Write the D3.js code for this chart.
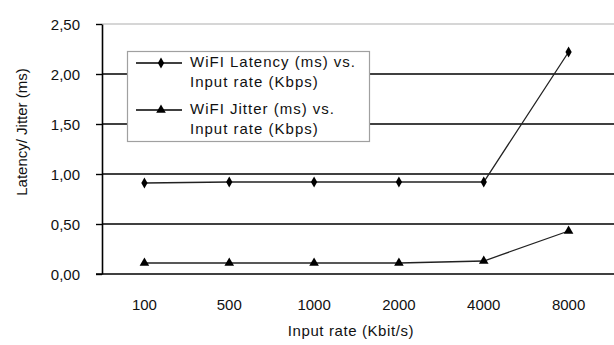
<!DOCTYPE html>
<html>
<head>
<meta charset="utf-8">
<script src="https://cdn.jsdelivr.net/npm/d3@7"></script>
<style>
  body { margin: 0; background: #fff; }
  svg text { font-family: "Liberation Sans", Arial, sans-serif; font-size: 15px; fill: #111; }
</style>
</head>
<body>
<svg id="chart" width="614" height="345"></svg>
<script>
// data
const categories = ["100", "500", "1000", "2000", "4000", "8000"];
const latency = [0.91, 0.92, 0.92, 0.92, 0.92, 2.22];
const jitter = [0.11, 0.11, 0.11, 0.11, 0.13, 0.43];
const yTicks = [0, 0.5, 1, 1.5, 2, 2.5];
const legendLabels = [
  ["WiFI Latency (ms) vs.", "Input rate (Kbps)"],
  ["WiFI Jitter (ms) vs.", "Input rate (Kbps)"]
];

const svg = d3.select("#chart");
const plotLeft = 102, plotRight = 611, plotTop = 24, plotBottom = 274;

let x = d3.scaleBand().domain(categories).range([plotLeft, plotRight]);
let y = d3.scaleLinear().domain([0, 2.5]).range([plotBottom, plotTop]);
let fmt = d => d3.format(".2f")(d).replace(".", ",");

// gridlines
svg.append("g").selectAll("line").data(yTicks.filter(d => d > 0))
  .enter().append("line")
  .attr("x1", plotLeft).attr("x2", 614)
  .attr("y1", d => y(d)).attr("y2", d => y(d))
  .attr("stroke", d => d === 2.5 ? "#c8c8c8" : "#000")
  .attr("stroke-width", d => d === 2.5 ? 1.5 : 1.4);

// y axis
let yAxis = svg.append("g")
  .attr("transform", `translate(${plotLeft},0)`)
  .call(d3.axisLeft(y).tickValues(yTicks).tickSize(6).tickSizeOuter(0).tickFormat(fmt));
yAxis.attr("font-size", null).attr("font-family", null);
yAxis.select(".domain").attr("stroke-width", 1.6);
yAxis.selectAll(".tick line").attr("stroke-width", 1.4);
yAxis.selectAll("text").attr("x", -22).attr("dy", "0.36em");

// x axis baseline
svg.append("line")
  .attr("x1", plotLeft - 6).attr("x2", 614)
  .attr("y1", plotBottom).attr("y2", plotBottom)
  .attr("stroke", "#000").attr("stroke-width", 1.6);

svg.append("g").selectAll("text").data(categories)
  .enter().append("text")
  .attr("x", d => x(d) + x.bandwidth() / 2)
  .attr("y", 310)
  .attr("text-anchor", "middle")
  .text(d => d);

svg.append("text")
  .attr("x", 351).attr("y", 336)
  .attr("text-anchor", "middle")
  .attr("letter-spacing", 0.6)
  .text("Input rate (Kbit/s)");

svg.append("text")
  .attr("transform", "translate(27,132) rotate(-90)")
  .attr("text-anchor", "middle")
  .attr("font-size", 13)
  .text("Latency/ Jitter  (ms)");

// series
let line = d3.line()
  .x((d, i) => x(categories[i]) + x.bandwidth() / 2)
  .y(d => y(d));

let diamond = d3.symbol().type(d3.symbolDiamond).size(34);
let triangle = d3.symbol().type(d3.symbolTriangle).size(40);

[[latency, diamond], [jitter, triangle]].forEach(([vals, sym]) => {
  svg.append("path").datum(vals)
    .attr("d", line)
    .attr("fill", "none")
    .attr("stroke", "#222")
    .attr("stroke-width", 1.3);
  svg.append("g").selectAll("path").data(vals)
    .enter().append("path")
    .attr("d", sym)
    .attr("transform", (d, i) => `translate(${x(categories[i]) + x.bandwidth() / 2},${y(d)})`)
    .attr("fill", "#000");
});

// legend
let legend = svg.append("g");
legend.append("rect")
  .attr("x", 127.5).attr("y", 51.5)
  .attr("width", 242).attr("height", 90)
  .attr("fill", "#fff").attr("stroke", "#a0a0a0").attr("stroke-width", 1.2);

let syms = [diamond, triangle];
legendLabels.forEach((lines, k) => {
  let ly = 63 + k * 47;
  legend.append("line")
    .attr("x1", 136).attr("x2", 182)
    .attr("y1", ly).attr("y2", ly)
    .attr("stroke", "#000").attr("stroke-width", 1.3);
  legend.append("path")
    .attr("d", syms[k])
    .attr("transform", `translate(161,${ly})`);
  lines.forEach((t, j) => {
    legend.append("text")
      .attr("x", 190).attr("y", ly + 4 + j * 20)
      .attr("letter-spacing", 1)
      .text(t);
  });
});
</script>
</body>
</html>
